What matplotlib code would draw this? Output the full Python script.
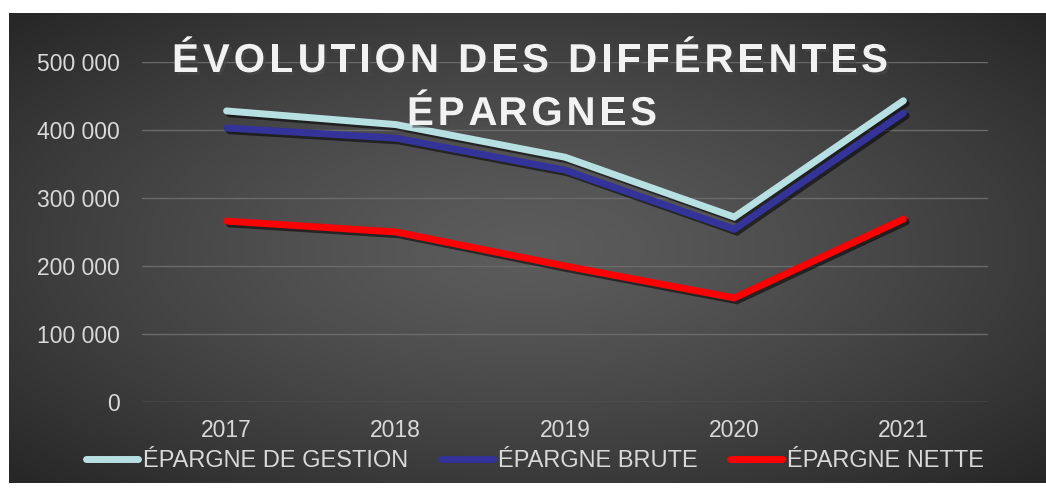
import numpy as np
import matplotlib.pyplot as plt
import matplotlib.patheffects as pe
from matplotlib.ticker import FuncFormatter

annees = ['2017', '2018', '2019', '2020', '2021']
epargne_gestion = [428000, 408000, 360000, 272000, 443000]
epargne_brute = [403000, 388000, 341000, 254000, 425000]
epargne_nette = [266000, 250000, 200000, 153000, 269000]

series = [
    ('ÉPARGNE DE GESTION', epargne_gestion, '#b7e0e3'),
    ('ÉPARGNE BRUTE', epargne_brute, '#33339a'),
    ('ÉPARGNE NETTE', epargne_nette, '#ff0000'),
]
titre = ['ÉVOLUTION DES DIFFÉRENTES', 'ÉPARGNES']

plt.rcParams['font.family'] = ['Liberation Sans', 'DejaVu Sans']

W, H = 1046, 490
fig = plt.figure(figsize=(W / 100, H / 100), dpi=100)
fig.patch.set_facecolor('white')

# fond en dégradé radial
bg = fig.add_axes([9 / W, 1 - 483 / H, (W - 9) / W, (483 - 13) / H])
yy, xx = np.mgrid[-1:1:200j, -1:1:400j]
r = np.sqrt(xx ** 2 + yy ** 2) / np.sqrt(2)
img = 0.36 - 0.21 * r ** 1.3
bg.imshow(np.dstack([img, img, img]), aspect='auto', extent=[0, 1, 0, 1],
          interpolation='bilinear')
bg.axis('off')

ax = fig.add_axes([142 / W, 1 - 402 / H, (988 - 142) / W, (402 - 62) / H])
ax.set_facecolor('none')
x = np.arange(len(annees))
ombre = [pe.SimpleLineShadow(offset=(2, -2), shadow_color='black', alpha=0.55),
         pe.Normal()]
for nom, vals, coul in series:
    ax.plot(x, vals, color=coul, lw=5, solid_capstyle='round',
            solid_joinstyle='miter', label=nom, path_effects=ombre)

ax.set_xlim(-0.5, 4.5)
ax.set_ylim(0, 500000)
ax.set_yticks(range(0, 500001, 100000))
ax.yaxis.set_major_formatter(FuncFormatter(
    lambda v, p: f'{int(v):,}'.replace(',', ' ')))
ax.set_xticks(x)
ax.set_xticklabels(annees)
ax.grid(axis='y', color='#6a6a6a', lw=1)
ax.set_axisbelow(True)
for s in ax.spines.values():
    s.set_visible(False)
ax.tick_params(length=0, colors='#d9d9d9', labelsize=16.5)
ax.tick_params(axis='y', pad=16)
ax.tick_params(axis='x', pad=12)

# titre avec espacement des lettres
renderer = fig.canvas.get_renderer()
fs_titre = 29


def largeur(txt):
    t = fig.text(0, 0, txt + 'I', fontsize=fs_titre, fontweight='bold')
    w = t.get_window_extent(renderer).width
    t.remove()
    t = fig.text(0, 0, 'I', fontsize=fs_titre, fontweight='bold')
    w -= t.get_window_extent(renderer).width
    t.remove()
    return w


def texte_espace(txt, cx, base, total):
    nat = largeur(txt)
    track = (total - nat) / (len(txt) - 1)
    x0 = cx - total / 2
    for i, c in enumerate(txt):
        if c == ' ':
            continue
        px = x0 + largeur(txt[:i]) + i * track
        fig.text(px / W, 1 - base / H, c, ha='left', va='baseline',
                 fontsize=fs_titre, fontweight='bold', color='#f2f2f2',
                 path_effects=[pe.withSimplePatchShadow(offset=(2, -2),
                                                        alpha=0.6)])


texte_espace(titre[0], 530, 72, 716)
texte_espace(titre[1], 532, 125, 250)

leg = fig.legend(loc='center', bbox_to_anchor=(535 / W, 1 - 461 / H), ncol=3,
                 frameon=False, fontsize=17, handlelength=2.2,
                 handletextpad=0.2, columnspacing=1.4, labelcolor='#d9d9d9')
for l in leg.get_lines():
    l.set_linewidth(5)
    l.set_path_effects([])

fig.savefig('out.png', dpi=100)
